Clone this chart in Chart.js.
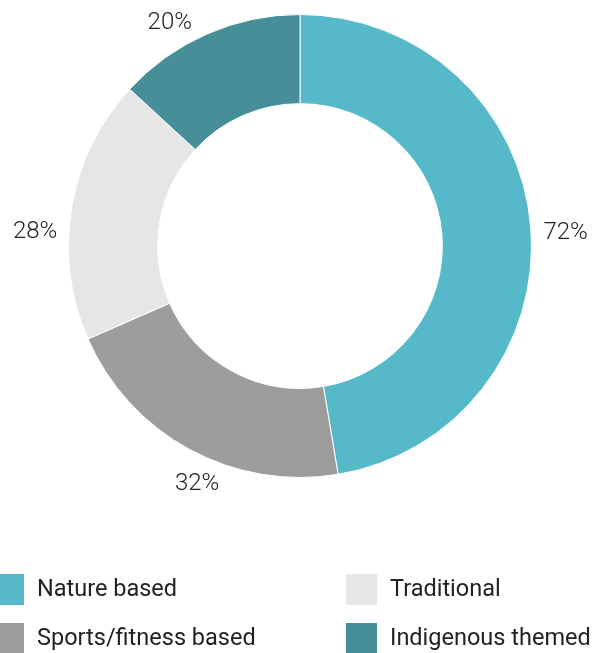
<!DOCTYPE html>
<html>
<head>
<meta charset="utf-8">
<script src="https://cdn.jsdelivr.net/npm/chart.js@4.4.0/dist/chart.umd.min.js"></script>
<style>
  html, body { margin: 0; padding: 0; background: #fff; }
  #wrap { position: relative; width: 605px; height: 653px; }
</style>
</head>
<body>
<div id="wrap"><canvas id="donut"></canvas></div>
<script>
// chart data
const categories = ['Nature based', 'Sports/fitness based', 'Traditional', 'Indigenous themed'];
const values = [72, 32, 28, 20];
const valueLabels = ['72%', '32%', '28%', '20%'];
const colours = ['#55b9ca', '#9d9d9b', '#e6e6e6', '#468e98'];

// legend grid: order as shown (left column, right column)
const legendOrder = [0, 2, 1, 3];

// small nudges so the % labels sit where the original puts them
const labelNudge = [[2, 9], [23, 5], [-4, 30], [-24, 19]];

// draws the % labels outside each slice
const outsideLabels = {
  id: 'outsideLabels',
  afterDatasetsDraw(chart) {
    const ctx = chart.ctx;
    const meta = chart.getDatasetMeta(0);
    ctx.save();
    ctx.font = '300 24px Roboto';
    ctx.fillStyle = '#222';
    ctx.textAlign = 'center';
    ctx.textBaseline = 'middle';
    meta.data.forEach((arc, i) => {
      const p = arc.getProps(['x', 'y', 'startAngle', 'endAngle', 'outerRadius'], true);
      const mid = (p.startAngle + p.endAngle) / 2;
      const r = p.outerRadius + 33;
      ctx.fillText(valueLabels[i],
        p.x + Math.cos(mid) * r + labelNudge[i][0],
        p.y + Math.sin(mid) * r + labelNudge[i][1]);
    });
    ctx.restore();
  }
};

// draws the legend in two columns at the bottom
const bottomLegend = {
  id: 'bottomLegend',
  afterDraw(chart) {
    const ctx = chart.ctx;
    ctx.save();
    ctx.font = '23.5px Roboto';
    ctx.textBaseline = 'middle';
    legendOrder.forEach((idx, n) => {
      const col = n % 2;
      const row = Math.floor(n / 2);
      const x = col === 0 ? -7 : 346;
      const y = 574 + row * 49;
      ctx.fillStyle = colours[idx];
      ctx.fillRect(x, y, 31, 31);
      ctx.fillStyle = '#222';
      ctx.fillText(categories[idx], x + 44, y + 16.5);
    });
    ctx.restore();
  }
};

new Chart(document.getElementById('donut'), {
  type: 'doughnut',
  data: {
    labels: categories,
    datasets: [{
      data: values,
      backgroundColor: colours,
      borderColor: '#fff',
      borderWidth: 1,
      hoverOffset: 0
    }]
  },
  options: {
    responsive: true,
    maintainAspectRatio: false,
    animation: false,
    cutout: '61.5%',
    layout: { padding: { left: 68, right: 73, top: 14, bottom: 175 } },
    plugins: {
      legend: { display: false },
      tooltip: { enabled: false }
    }
  },
  plugins: [outsideLabels, bottomLegend]
});
</script>
</body>
</html>
